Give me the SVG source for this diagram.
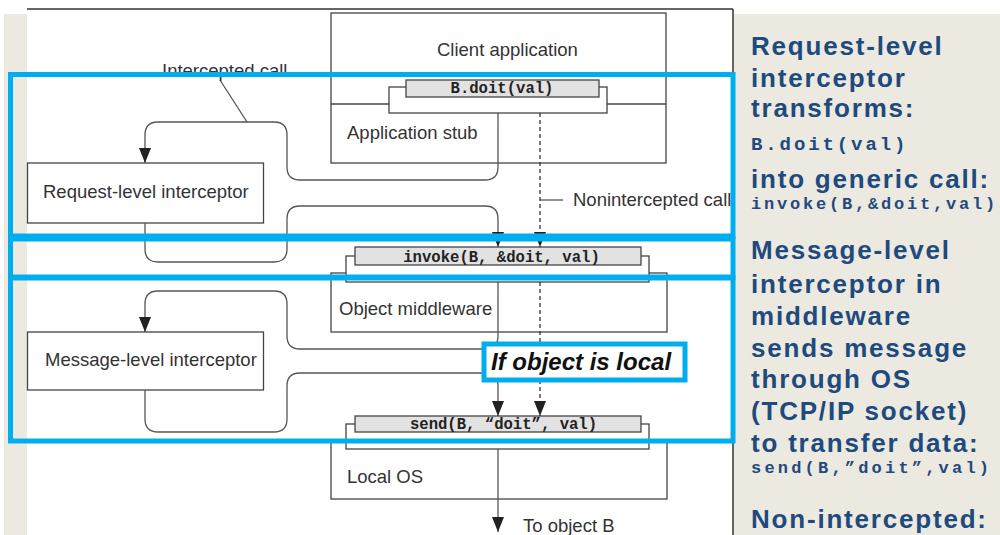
<svg xmlns="http://www.w3.org/2000/svg" width="1000" height="535" viewBox="0 0 1000 535">
<style>
.box{fill:#fff;stroke:#444;stroke-width:1.3}
.bar{fill:#e2e2e2;stroke:#444;stroke-width:1.3}
.lbl{font-family:"Liberation Sans",Arial,sans-serif;font-size:18.5px;fill:#333}
.code{font-family:"Liberation Mono","Courier New",monospace;font-weight:bold;font-size:15.6px;fill:#222;text-anchor:middle}
.wire{fill:none;stroke:#555;stroke-width:1.3}
.dash{fill:none;stroke:#333;stroke-width:1.3;stroke-dasharray:4 3}
.hl{fill:none;stroke:#00aeef;stroke-width:5}
.rt{font-family:"Liberation Sans",Arial,sans-serif;font-weight:bold;font-size:26px;letter-spacing:1.8px;fill:#1e4a7e}
.rc{font-family:"Liberation Mono","Courier New",monospace;font-weight:bold;fill:#1e4a7e}
</style>
<defs>
<marker id="ah" viewBox="0 0 15 12" markerWidth="15" markerHeight="12" markerUnits="userSpaceOnUse" refX="15" refY="6" orient="auto">
<path d="M0,0 L15,6 L0,12 z" fill="#222"/>
</marker>
</defs>
<rect width="1000" height="535" fill="#fff"/>
<rect x="4" y="14" width="996" height="521" fill="#ece9e0"/>
<rect x="27" y="9" width="706" height="526" fill="#fff"/>
<line x1="27" y1="9" x2="733" y2="9" stroke="#333" stroke-width="1.5"/>

<g id="client-app">
<rect class="box" x="331" y="13" width="335" height="150"/>
<line x1="331" y1="104" x2="666" y2="104" stroke="#444" stroke-width="1.3"/>
<rect class="box" x="389" y="87" width="218" height="26"/>
<rect class="bar" x="406" y="80" width="193" height="17"/>
<text class="code" x="502" y="93">B.doit(val)</text>
<text class="lbl" x="437" y="56">Client application</text>
<text class="lbl" x="347" y="139">Application stub</text>
</g>

<g id="request-interceptor">
<rect class="box" x="27.5" y="163" width="236" height="60"/>
<text class="lbl" x="43" y="198">Request-level interceptor</text>
</g>

<g id="object-middleware">
<rect class="box" x="331" y="273" width="336" height="59"/>
<rect class="box" x="346" y="256" width="303" height="26"/>
<rect class="bar" x="355" y="247" width="286" height="18"/>
<text class="code" x="501.5" y="262">invoke(B, &amp;doit, val)</text>
<text class="lbl" x="339" y="315">Object middleware</text>
</g>

<g id="message-interceptor">
<rect class="box" x="27.5" y="332" width="236" height="58"/>
<text class="lbl" x="45" y="366">Message-level interceptor</text>
</g>

<g id="local-os">
<rect class="box" x="331" y="440" width="336" height="59"/>
<rect class="box" x="346" y="424" width="303" height="25"/>
<rect class="bar" x="355" y="416" width="286" height="16"/>
<text class="code" x="503.5" y="429">send(B, “doit”, val)</text>
<text class="lbl" x="347" y="483">Local OS</text>
</g>

<g id="connectors">
<path class="wire" d="M498,113 V167 Q498,180 485,180 H300 Q287,180 287,167 V135 Q287,122 274,122 H158 Q145,122 145,135 V163" marker-end="url(#ah)"/>
<path class="wire" d="M145,223 V249 Q145,262 158,262 H274 Q287,262 287,249 V219 Q287,206 300,206 H485 Q498,206 498,219 V247" marker-end="url(#ah)"/>
<path class="dash" d="M540,113 V247" marker-end="url(#ah)"/>
<path class="wire" d="M498,282 V336 Q498,349 485,349 H300 Q287,349 287,336 V304 Q287,291 274,291 H158 Q145,291 145,304 V332" marker-end="url(#ah)"/>
<path class="wire" d="M145,390 V419 Q145,432 158,432 H274 Q287,432 287,419 V386 Q287,373 300,373 H485 Q498,373 498,386 V416" marker-end="url(#ah)"/>
<path class="dash" d="M540,282 V416" marker-end="url(#ah)"/>
<path class="wire" d="M498,449 V532" marker-end="url(#ah)"/>
<line class="wire" x1="220" y1="80" x2="247" y2="122"/>
<line class="wire" x1="540" y1="200" x2="563" y2="200"/>
</g>

<g id="labels">
<text class="lbl" x="162" y="77">Intercepted call</text>
<text class="lbl" x="573" y="206">Nonintercepted call</text>
<text class="lbl" x="523" y="532">To object B</text>
</g>

<rect x="734" y="14" width="266" height="521" fill="#ece9e0"/>
<line x1="733" y1="9" x2="733" y2="535" stroke="#333" stroke-width="1.5"/>

<g id="highlights">
<rect class="hl" x="10.5" y="74.5" width="722.5" height="161.5"/>
<rect class="hl" x="10.5" y="239" width="722.5" height="38"/>
<rect class="hl" x="10.5" y="278" width="722.5" height="163"/>
</g>

<g id="if-local">
<rect x="484" y="344" width="201" height="36" fill="#fff" stroke="#00aeef" stroke-width="5"/>
<text x="491" y="370" font-family="Liberation Sans, Arial, sans-serif" font-weight="bold" font-style="italic" font-size="24" fill="#111">If object is local</text>
</g>

<g id="notes">
<text class="rt" x="751" y="55">Request-level</text>
<text class="rt" x="751" y="87">interceptor</text>
<text class="rt" x="751" y="117">transforms:</text>
<text class="rc" x="751" y="150" font-size="19" letter-spacing="2.9">B.doit(val)</text>
<text class="rt" x="751" y="188">into generic call:</text>
<text class="rc" x="751" y="209" font-size="17" letter-spacing="2.8">invoke(B,&amp;doit,val)</text>
<text class="rt" x="751" y="259">Message-level</text>
<text class="rt" x="751" y="293">interceptor in</text>
<text class="rt" x="751" y="325">middleware</text>
<text class="rt" x="751" y="357">sends message</text>
<text class="rt" x="751" y="388">through OS</text>
<text class="rt" x="751" y="420">(TCP/IP socket)</text>
<text class="rt" x="751" y="452">to transfer data:</text>
<text class="rc" x="751" y="473" font-size="17" letter-spacing="3.2">send(B,”doit”,val)</text>
<text class="rt" x="751" y="528">Non-intercepted:</text>
</g>
</svg>
